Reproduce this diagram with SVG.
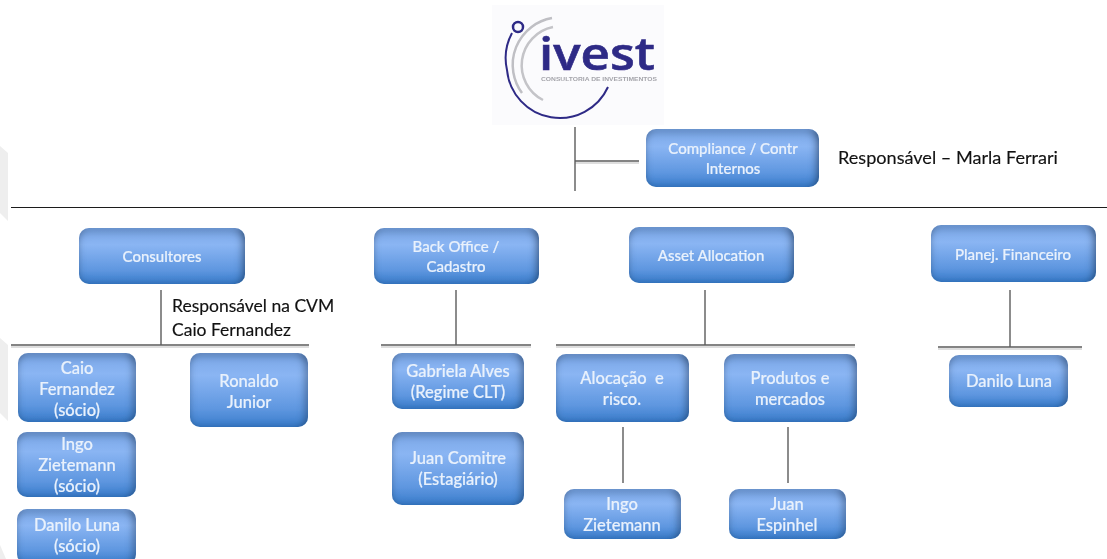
<svg xmlns="http://www.w3.org/2000/svg" width="1107" height="559" viewBox="0 0 1107 559">
<style>
.n{fill:url(#g);filter:url(#inner)}
.t{font-family:"Lato","Open Sans",sans-serif;font-size:15px;font-weight:500;fill:#e9f1fc;stroke:#e9f1fc;stroke-width:.2;text-anchor:middle}
.b{font-size:16.500px}
.k{font-family:"Lato","Open Sans",sans-serif;font-size:17.500px;fill:#111;stroke:#111;stroke-width:.15}
.c{stroke:#5c5c5c;stroke-width:1.4;fill:none}
.h{stroke:#d4d4d4;stroke-width:1.500;fill:none}
.d{stroke:#1c1c1c;stroke-width:1.100;fill:none}
.w{fill:#eeeeee}
</style>
<defs>
<linearGradient id="g" x1="0" y1="0" x2="0" y2="1">
<stop offset="0" stop-color="#7aa6e6"/><stop offset=".3" stop-color="#8ab5f3"/><stop offset=".75" stop-color="#5f97e0"/><stop offset="1" stop-color="#3a7ccb"/>
</linearGradient>
<filter id="inner" x="-5%" y="-5%" width="110%" height="110%">
<feComponentTransfer in="SourceAlpha" result="inv"><feFuncA type="table" tableValues="1 0"/></feComponentTransfer>
<feGaussianBlur in="inv" stdDeviation="4.500" result="bl"/>
<feOffset in="bl" dx="-2" dy="1.500" result="off"/>
<feFlood flood-color="#133860" flood-opacity="1"/>
<feComposite in2="off" operator="in" result="col"/>
<feComposite in="col" in2="SourceAlpha" operator="in" result="sh"/>
<feMerge><feMergeNode in="SourceGraphic"/><feMergeNode in="sh"/></feMerge>
</filter>
<filter id="soft"><feGaussianBlur stdDeviation="0.45"/></filter>
</defs>
<rect width="1107" height="559" fill="#fff"/>
<g id="watermark">
<path class="w" d="M0 146L8 153V221L0 213Z"/>
<path class="w" d="M0 338L8 345V421L0 413Z"/>
<path class="w" d="M0 545L6 559H0Z"/>
</g>
<rect x="492" y="5" width="172" height="120" fill="#fbfbfd"/>
<g id="logo" filter="url(#soft)">
<path d="M552 18A47.500 47.500 0 0 0 522 93" fill="none" stroke="#bfbfc4" stroke-width="2.500"/>
<path d="M553 27A39 39 0 0 0 543 100" fill="none" stroke="#c4c4c8" stroke-width="2.500"/>
<path d="M512 33A57 55 0 0 0 507 70A53 53 0 0 0 608 87" fill="none" stroke="#2e2a86" stroke-width="2"/>
<circle cx="518" cy="27" r="5" fill="none" stroke="#2e2a86" stroke-width="2.500"/>
<text x="539" y="70" font-family="'Open Sans',sans-serif" font-size="46" font-weight="600" fill="#2e2a86" stroke="#2e2a86" stroke-width=".6" textLength="116" lengthAdjust="spacingAndGlyphs">ivest</text>
<text x="541" y="80.500" font-family="'Liberation Sans',sans-serif" font-size="5.600" font-weight="700" fill="#a5a5ab" textLength="116" lengthAdjust="spacingAndGlyphs">CONSULTORIA DE INVESTIMENTOS</text>
</g>
<g id="connectors">
<path class="h" d="M11 347H309M381 347H531M556 347H855M938 349H1082M575 163H639"/>
<path class="c" d="M575 127V191M575 161H639"/>
<path class="d" d="M11 207.500H1107"/>
<path class="c" d="M161 290V345M11 345H309"/>
<path class="c" d="M456 290V345M381 345H531"/>
<path class="c" d="M705 290V345M556 345H855"/>
<path class="c" d="M1010 290V347M938 347H1082"/>
<path class="c" d="M623 427V483M788 427V483"/>
</g>
<g filter="url(#soft)">
<g id="compliance"><rect class="n" x="646" y="129" width="173" height="58" rx="10"/><text class="t" x="733" y="154">Compliance / Contr</text><text class="t" x="733" y="174">Internos</text></g>
<g id="consultores"><rect class="n" x="79" y="228" width="166" height="56" rx="10"/><text class="t" x="162" y="262">Consultores</text></g>
<g id="backoffice"><rect class="n" x="374" y="228" width="165" height="56" rx="10"/><text class="t" x="456" y="252">Back Office /</text><text class="t" x="456" y="272">Cadastro</text></g>
<g id="asset"><rect class="n" x="629" y="227" width="165" height="56" rx="10"/><text class="t" x="711" y="261">Asset Allocation</text></g>
<g id="planej"><rect class="n" x="931" y="225" width="165" height="57" rx="10"/><text class="t" x="1013" y="260">Planej. Financeiro</text></g>
<g id="caio"><rect class="n" x="18" y="353" width="118" height="69" rx="10"/><text class="t b" x="77" y="374">Caio</text><text class="t b" x="77" y="395">Fernandez</text><text class="t b" x="77" y="416">(sócio)</text></g>
<g id="ronaldo"><rect class="n" x="190" y="353" width="118" height="74" rx="10"/><text class="t b" x="249" y="387">Ronaldo</text><text class="t b" x="249" y="408">Junior</text></g>
<g id="ingo1"><rect class="n" x="17" y="432" width="119" height="65" rx="10"/><text class="t b" x="77" y="450">Ingo</text><text class="t b" x="77" y="471">Zietemann</text><text class="t b" x="77" y="492">(sócio)</text></g>
<g id="danilo1"><rect class="n" x="17" y="509" width="119" height="55" rx="10"/><text class="t b" x="77" y="531">Danilo Luna</text><text class="t b" x="77" y="552">(sócio)</text></g>
<g id="gabriela"><rect class="n" x="392" y="353" width="132" height="56" rx="10"/><text class="t b" x="458" y="377">Gabriela Alves</text><text class="t b" x="458" y="398">(Regime CLT)</text></g>
<g id="juanc"><rect class="n" x="392" y="432" width="132" height="73" rx="10"/><text class="t b" x="458" y="464">Juan Comitre</text><text class="t b" x="458" y="485">(Estagiário)</text></g>
<g id="alocacao"><rect class="n" x="556" y="354" width="133" height="68" rx="10"/><text class="t b" x="622" y="384">Alocação&#160; e</text><text class="t b" x="622" y="405">risco.</text></g>
<g id="produtos"><rect class="n" x="724" y="354" width="133" height="68" rx="10"/><text class="t b" x="790" y="384">Produtos e</text><text class="t b" x="790" y="405">mercados</text></g>
<g id="ingo2"><rect class="n" x="564" y="489" width="117" height="50" rx="10"/><text class="t b" x="622" y="510">Ingo</text><text class="t b" x="622" y="531">Zietemann</text></g>
<g id="juane"><rect class="n" x="729" y="489" width="117" height="50" rx="10"/><text class="t b" x="787" y="510">Juan</text><text class="t b" x="787" y="531">Espinhel</text></g>
<g id="danilo2"><rect class="n" x="949" y="355" width="119" height="52" rx="10"/><text class="t b" x="1009" y="387">Danilo Luna</text></g>
</g>
<g id="notes">
<text class="k" x="838" y="164" style="font-size:18.100px">Responsável – Marla Ferrari</text>
<text class="k" x="172" y="312">Responsável na CVM</text>
<text class="k" x="172" y="336">Caio Fernandez</text>
</g>
</svg>
